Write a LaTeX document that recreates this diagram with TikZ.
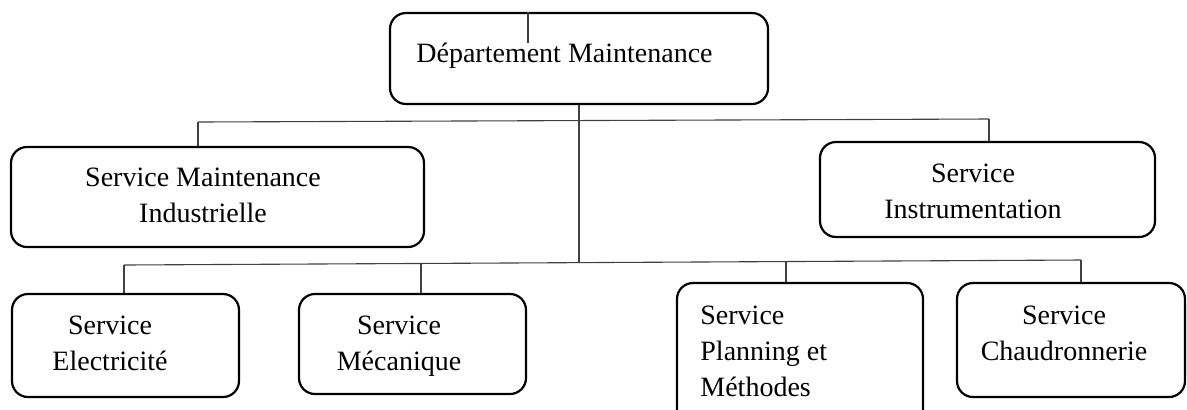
\documentclass[tikz,border=0pt]{standalone}
\usepackage{fontspec}
\setmainfont{Liberation Serif}
\begin{document}
\begin{tikzpicture}[x=0.5pt,y=-0.5pt,
  box/.style={draw=black,line width=1.1pt,rounded corners=8pt,minimum width=#1,inner sep=0pt},
  lbl/.style={inner sep=0pt,font=\fontsize{14}{18}\selectfont},
  conn/.style={draw=black!75,line width=0.55pt}]
\clip (0,0) rectangle (1187,409);
\fill[white] (0,0) rectangle (1187,409);
% boxes
\node[box=189pt,minimum height=45.5pt] (top) at (579,58.5) {};
\node[box=206.5pt,minimum height=50pt] (smi) at (217.5,197) {};
\node[box=167.5pt,minimum height=47.5pt] (si) at (987.5,189.5) {};
\node[box=113.5pt,minimum height=51.5pt] (elec) at (125.5,345.5) {};
\node[box=113.5pt,minimum height=50pt] (meca) at (412.5,344) {};
\node[box=123pt,minimum height=75pt] (plan) at (800,358) {};
\node[box=114pt,minimum height=57pt] (chaud) at (1071,340) {};
% texts
\node[lbl,anchor=base west] (ttop) at (416,62) {Département Maintenance};
\node[lbl,align=center] (tsmi) at (203,195.5) {Service Maintenance\\Industrielle};
\node[lbl,align=center] (tsi) at (973,191.5) {Service\\Instrumentation};
\node[lbl,align=center] (telec) at (110,343) {Service\\Electricité};
\node[lbl,align=center] (tmeca) at (399,346) {Service\\Mécanique};
\node[lbl,align=left,anchor=west] (tplan) at (700,351.5) {Service\\Planning et\\Méthodes};
\node[lbl,align=center] (tchaud) at (1064,333) {Service\\Chaudronnerie};
% bus coordinates
\coordinate (ua) at (198,122);
\coordinate (ub) at (989,119);
\coordinate (la) at (124,265);
\coordinate (lm) at (421,263.4);
\coordinate (lc) at (579,262.6);
\coordinate (lp) at (786,261.5);
\coordinate (lb) at (1081,260);
\coordinate (tick) at (528,43);
% connectors
\draw[conn] (top.north -| tick) -- (tick);
\draw[conn] (top.south) -- (lc);
\draw[conn] (ua) -- (ub);
\draw[conn] (ua) -- (smi.north -| ua);
\draw[conn] (ub) -- (si.north -| ub);
\draw[conn] (la) -- (lb);
\draw[conn] (la) -- (elec.north -| la);
\draw[conn] (lm) -- (meca.north -| lm);
\draw[conn] (lp) -- (plan.north -| lp);
\draw[conn] (lb) -- (chaud.north -| lb);
\end{tikzpicture}
\end{document}
